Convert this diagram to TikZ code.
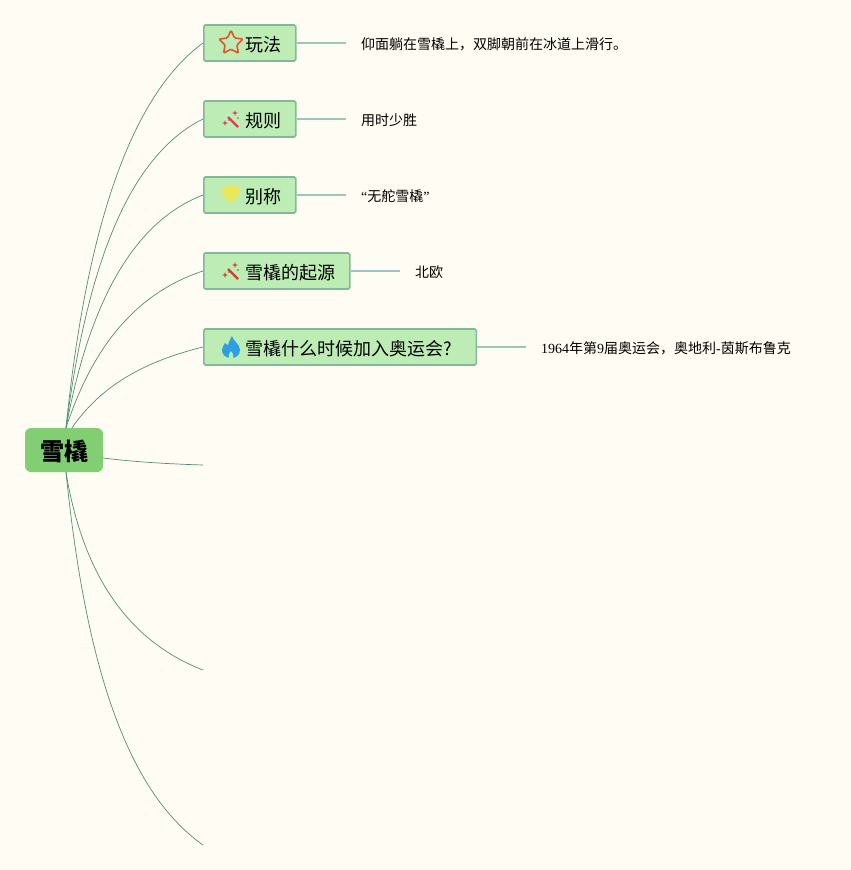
\documentclass[tikz,border=0pt]{standalone}
\usepackage{fontspec}
\setmainfont{Liberation Serif}
\newfontfamily\cjk{Noto Sans CJK SC}
\usetikzlibrary{
    shapes.geometric
}
\definecolor{paper}{HTML}{FFFDF3}
\definecolor{rootgreen}{HTML}{82CE72}
\definecolor{branchgreen}{HTML}{BDEDB5}
\definecolor{branchedge}{HTML}{84B89C}
\definecolor{leafline}{HTML}{9CC6B8}
\definecolor{curveline}{HTML}{4F8F78}
\definecolor{starred}{HTML}{E0552F}
\definecolor{wandpink}{HTML}{D63E58}
\definecolor{wandred}{HTML}{C8402F}
\definecolor{gemyellow}{HTML}{E8E85A}
\definecolor{flameblue}{HTML}{2E9FE0}
\tikzset{
    rootbox/.style={fill=rootgreen, rounded corners=6pt, minimum width=78pt, minimum height=44pt,
        inner sep=0pt, text height=21.4pt, text depth=0pt, font=\cjk\fontsize{24}{26}\selectfont\bfseries},
    branchbox/.style={draw=branchedge, line width=1.6pt, fill=branchgreen, rounded corners=1.5pt, anchor=west,
        minimum height=36pt, inner xsep=14pt, inner ysep=0pt, text height=16.4pt, text depth=0pt,
        font=\cjk\fontsize{18}{20}\selectfont},
    leaftext/.style={anchor=west, inner xsep=15pt, inner ysep=2pt, font=\cjk\fontsize{14}{16}\selectfont},
    curve/.style={draw=curveline, line width=0.7pt},
    leafedge/.style={draw=leafline, line width=1.5pt},
    sparkle/.style={star, star points=4, star point ratio=3, minimum size=6pt, inner sep=0pt}
}
\newcommand{\wandicon}[3]{
    \draw[#3, line width=2.2pt] (#1-3,#2-2) -- (#1+7,#2+8);
    \node[sparkle, fill=#3] at (#1+4,#2-6) {};
    \node[sparkle, fill=#3] at (#1-6,#2+4) {};
    \fill[#3] (#1+7,#2-1) circle (0.9pt);
    \fill[#3] (#1-2,#2+1) circle (0.8pt);
}
\begin{document}
\begin{tikzpicture}[x=1pt,y=-1pt]
    \useasboundingbox[fill=paper] (0,0) rectangle (851,870);
    % free ends of the empty branches
    \coordinate (emptya) at (203,465);
    \coordinate (emptyb) at (203,670);
    \coordinate (emptyc) at (203,845);
    \node[rootbox] (root) at (64,450) {雪橇};
    \node[branchbox] (play) at (203,43) {\hspace{28pt}玩法};
    \node[branchbox] (rule) at (203,119) {\hspace{28pt}规则};
    \node[branchbox] (alias) at (203,195) {\hspace{28pt}别称};
    \node[branchbox] (origin) at (203,271) {\hspace{28pt}雪橇的起源};
    \node[branchbox] (join) at (203,347) {\hspace{28pt}雪橇什么时候加入奥运会?\kern10pt};
    \node[leaftext] (playtext) at (346,44) {仰面躺在雪橇上，双脚朝前在冰道上滑行。};
    \node[leaftext] (ruletext) at (346,120) {用时少胜};
    \node[leaftext] (aliastext) at (346,196) {{\rmfamily “}无舵雪橇{\rmfamily ”}};
    \node[leaftext] (origintext) at (400,272) {北欧};
    \node[leaftext] (jointext) at (526,348) {{\rmfamily 1964}年第{\rmfamily 9}届奥运会，奥地利{\rmfamily -}茵斯布鲁克};
    % curves out of the root
    \draw[curve] ([xshift=2pt]root.north) .. controls (82,270) and (118,105) .. (play.west);
    \draw[curve] ([xshift=2pt]root.north) .. controls (84,290) and (120,160) .. (rule.west);
    \draw[curve] ([xshift=2pt]root.north) .. controls (86,320) and (125,225) .. (alias.west);
    \draw[curve] ([xshift=2pt]root.north) .. controls (90,355) and (130,295) .. (origin.west);
    \draw[curve] ([xshift=8pt]root.north) .. controls (95,395) and (130,365) .. (join.west);
    \draw[curve] ([yshift=-8pt]root.east) .. controls (135,462) and (170,464) .. (emptya);
    \draw[curve] ([xshift=2pt]root.south) .. controls (82,570) and (125,640) .. (emptyb);
    \draw[curve] ([xshift=2pt]root.south) .. controls (85,660) and (125,790) .. (emptyc);
    % leaf lines
    \draw[leafedge] (play.east) -- (play.east -| playtext.west);
    \draw[leafedge] (rule.east) -- (rule.east -| ruletext.west);
    \draw[leafedge] (alias.east) -- (alias.east -| aliastext.west);
    \draw[leafedge] (origin.east) -- (origin.east -| origintext.west);
    \draw[leafedge] (join.east) -- (join.east -| jointext.west);
    % icons
    \node[star, star points=5, star point ratio=2.0, draw=starred, line width=1.6pt, rounded corners=1pt,
        minimum size=25pt, inner sep=0pt] (staricon) at (231,43) {};
    \wandicon{231}{119}{wandpink}
    \wandicon{231}{271}{wandred}
    \fill[gemyellow, rounded corners=2pt] (224,186) -- (238,186) -- (241,192) -- (231,204) -- (221,192) -- cycle;
    \fill[flameblue] (232,336) .. controls (233,341) and (240,344) .. (240,350)
        .. controls (240,355) and (236,358) .. (231,358) .. controls (226,358) and (222,355) .. (222,350)
        .. controls (222,347) and (224,345) .. (225,343) .. controls (226,344) and (227,345) .. (228,345)
        .. controls (229,342) and (230,339) .. (232,336) -- cycle;
    \fill[branchgreen] (231,351) .. controls (232,353) and (234,354) .. (233,358) -- (229,358) .. controls (228,354) and (230,353) .. (231,351) -- cycle;
\end{tikzpicture}
\end{document}
